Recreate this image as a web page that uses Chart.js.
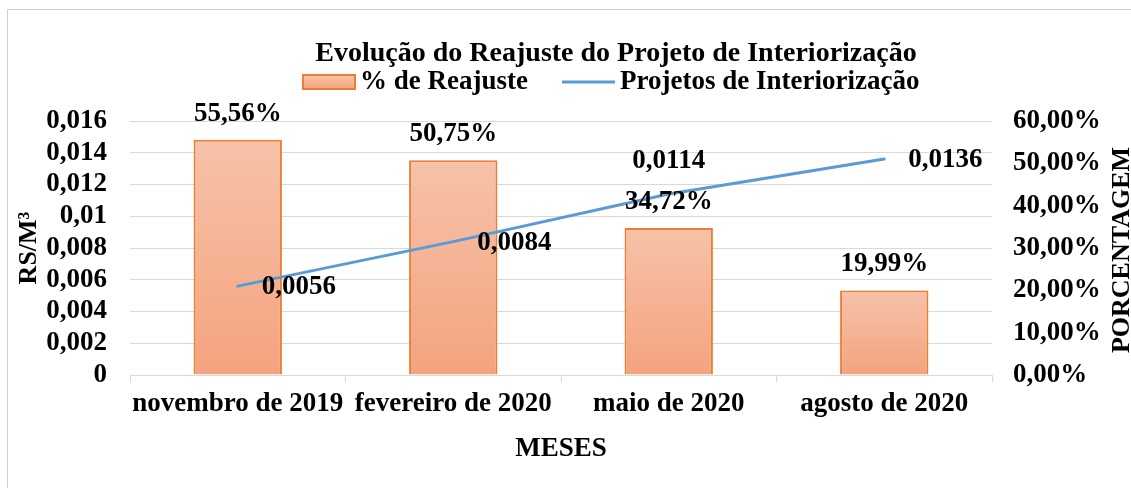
<!DOCTYPE html>
<html>
<head>
<meta charset="utf-8">
<script src="https://cdn.jsdelivr.net/npm/chart.js@4.4.0/dist/chart.umd.min.js"></script>
<style>
  html, body { margin: 0; padding: 0; background: #fff; }
  #wrap { width: 1131px; height: 488px; position: relative; }
</style>
</head>
<body>
<div id="wrap"><canvas id="reajusteChart"></canvas></div>
<script>
// --- Data ---
const categories = ['novembro de 2019', 'fevereiro de 2020', 'maio de 2020', 'agosto de 2020'];
const reajustePct = [55.56, 50.75, 34.72, 19.99];
const projetosValor = [0.0056, 0.0084, 0.0114, 0.0136];
const lineLabelPos = ['right', 'right', 'top', 'right'];

const leftMax = 0.016, leftStep = 0.002;
const rightMax = 60, rightStep = 10;

const chartTitle = 'Evolução do Reajuste do Projeto de Interiorização';
const leftTitle = 'RS/M³';
const rightTitle = 'PORCENTAGEM';
const xTitle = 'MESES';

const FONT = "'Liberation Serif', 'Times New Roman', serif";
Chart.defaults.font.family = FONT;
Chart.defaults.font.weight = 'bold';
Chart.defaults.font.size = 27;
Chart.defaults.color = '#000';

const ORANGE = '#ed7d31';
const BLUE = '#5b9bd5';
const GRID = '#d9d9d9';

const fmtPct = v => v.toFixed(2).replace('.', ',') + '%';
const fmtVal = v => String(v).replace('.', ',');

function barGradient(c, top, bottom) {
    const g = c.createLinearGradient(0, top, 0, bottom);
    g.addColorStop(0, '#f7c2a9');
    g.addColorStop(1, '#f4a37f');
    return g;
}

// --- Frame, title, legend, right axis title ---
const decorPlugin = {
    id: 'decor',
    beforeDraw(chart) {
        const c = chart.ctx;
        c.save();
        c.fillStyle = '#fff';
        c.fillRect(0, 0, chart.width, chart.height);
        c.strokeStyle = '#d0d0d0';
        c.lineWidth = 1;
        c.strokeRect(7.5, 9.5, chart.width + 20, chart.height + 20);
        c.restore();
    },
    afterDraw(chart) {
        const c = chart.ctx;
        c.save();
        c.fillStyle = '#000';
        c.textBaseline = 'middle';
        c.font = 'bold 28px ' + FONT;
        c.textAlign = 'center';
        c.fillText(chartTitle, 616, 54);

        // legend
        c.font = 'bold 27px ' + FONT;
        c.textAlign = 'left';
        const ly = 82;
        c.fillStyle = barGradient(c, ly - 7, ly + 7);
        c.fillRect(303, ly - 7, 52, 14);
        c.strokeStyle = ORANGE;
        c.lineWidth = 2;
        c.strokeRect(303, ly - 7, 52, 14);
        c.fillStyle = '#000';
        c.fillText(chart.data.datasets[1].label, 360, ly);
        c.strokeStyle = BLUE;
        c.lineWidth = 3;
        c.beginPath();
        c.moveTo(562, ly);
        c.lineTo(615, ly);
        c.stroke();
        c.fillText(chart.data.datasets[0].label, 620, ly);

        // right axis title
        c.translate(1122, 250);
        c.rotate(-Math.PI / 2);
        c.textAlign = 'center';
        c.font = 'bold 26px ' + FONT;
        c.fillText(rightTitle, 0, 0);
        c.restore();
    }
};

// --- Data labels ---
const labelPlugin = {
    id: 'valueLabels',
    afterDatasetsDraw(chart) {
        const c = chart.ctx;
        c.save();
        c.fillStyle = '#000';
        c.font = 'bold 27px ' + FONT;
        c.textBaseline = 'middle';
        c.textAlign = 'center';
        chart.getDatasetMeta(1).data.forEach((el, i) => {
            c.fillText(fmtPct(reajustePct[i]), el.x, el.y - 26);
        });
        chart.getDatasetMeta(0).data.forEach((el, i) => {
            if (lineLabelPos[i] === 'top') {
                c.textAlign = 'center';
                c.fillText(fmtVal(projetosValor[i]), el.x, el.y - 33);
            } else {
                c.textAlign = 'left';
                c.fillText(fmtVal(projetosValor[i]), el.x + 24, el.y + 1);
            }
        });
        c.restore();
    }
};

const ctx = document.getElementById('reajusteChart').getContext('2d');

const chart = new Chart(ctx, {
    data: {
        labels: categories,
        datasets: [{
            type: 'line',
            label: 'Projetos de Interiorização',
            data: projetosValor,
            yAxisID: 'y',
            borderColor: BLUE,
            borderWidth: 3,
            borderCapStyle: 'round',
            pointRadius: 0,
            tension: 0,
            order: 0
        }, {
            type: 'bar',
            label: '% de Reajuste',
            data: reajustePct,
            yAxisID: 'y1',
            backgroundColor: (context) => {
                const ch = context.chart;
                const s = ch.scales.y1;
                if (!s || context.type !== 'data' || !ch.chartArea) return '#f5b292';
                return barGradient(ch.ctx, s.getPixelForValue(context.parsed.y), s.getPixelForValue(0));
            },
            borderColor: ORANGE,
            borderWidth: 2,
            categoryPercentage: 1,
            barPercentage: 0.41,
            order: 1
        }]
    },
    options: {
        responsive: true,
        maintainAspectRatio: false,
        animation: false,
        layout: { padding: { top: 121, left: 10, right: 0, bottom: 0 } },
        plugins: {
            legend: { display: false },
            title: { display: false },
            tooltip: { enabled: false }
        },
        scales: {
            x: {
                offset: true,
                grid: { drawOnChartArea: false, drawTicks: true, tickLength: 7, color: GRID },
                border: { display: true, color: GRID, width: 1 },
                ticks: { padding: 6, maxRotation: 0, autoSkip: false },
                title: { display: true, text: xTitle, padding: { top: 0, bottom: 23 } },
                afterFit: s => { s.height = 113; }
            },
            y: {
                position: 'left',
                min: 0,
                max: leftMax,
                ticks: {
                    stepSize: leftStep,
                    autoSkip: false,
                    padding: 23,
                    callback: v => fmtVal(parseFloat(v.toFixed(3)))
                },
                grid: { color: GRID, drawTicks: false },
                border: { display: false },
                title: { display: true, text: leftTitle, font: { size: 26 }, padding: { top: 4, bottom: 0 } },
                afterFit: s => { s.width = 120; }
            },
            y1: {
                position: 'right',
                min: 0,
                max: rightMax,
                ticks: {
                    stepSize: rightStep,
                    autoSkip: false,
                    padding: 21,
                    callback: v => fmtPct(v)
                },
                grid: { drawOnChartArea: false, drawTicks: false },
                border: { display: false },
                afterFit: s => { s.width = 139; }
            }
        }
    },
    plugins: [decorPlugin, labelPlugin]
});
</script>
</body>
</html>
